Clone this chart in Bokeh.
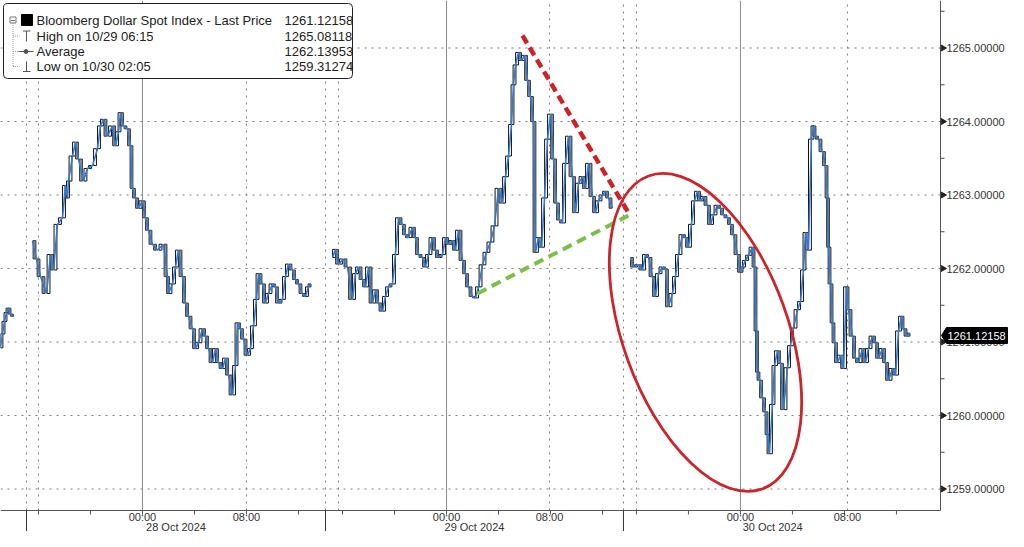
import numpy as np
from bokeh.plotting import figure
from bokeh.models import Range1d
from bokeh.core.properties import value
from bokeh.embed import file_html
from bokeh.resources import INLINE

# ---------------- data (compressed trading timeline, hours) ----------------
t_27 = [0.00, 0.15, 0.31, 0.46, 0.62, 0.77, 1.00]
p_27 = [1260.92, 1261.11, 1261.28, 1261.40, 1261.46, 1261.38, 1261.35]

t_28 = [2.46, 2.77, 3.08, 3.54, 3.85, 4.08, 4.38, 4.77, 5.00, 5.15, 5.23, 5.54, 5.77, 6.00, 6.38,
        6.69, 7.08, 7.46, 7.69, 7.92, 8.23, 8.62, 8.85, 9.08, 9.23, 9.46, 9.77, 10.00, 10.15, 10.38,
        10.62, 10.92, 11.15, 11.38, 11.69, 12.08, 12.54, 12.85, 12.92, 13.23, 13.46, 13.69, 14.00,
        14.23, 14.46, 14.77, 15.00, 15.23, 15.54, 15.77, 16.00, 16.31, 16.54, 16.77, 17.08, 17.31,
        17.54, 17.85, 18.08, 18.23, 18.46, 18.69, 19.00, 19.23, 19.46, 19.69, 19.85, 20.15, 20.38,
        20.62, 20.92, 21.15, 21.38, 21.69, 21.92, 22.15, 22.46, 22.69, 22.92, 23.23, 23.46, 23.69, 23.85]
p_28 = [1262.38, 1262.13, 1261.89, 1261.66, 1262.19, 1261.98, 1262.60, 1262.69, 1263.13, 1262.96,
        1263.19, 1263.53, 1263.72, 1263.49, 1263.19, 1263.36, 1263.40, 1263.63, 1263.94, 1264.03,
        1263.80, 1263.94, 1263.67, 1263.86, 1264.12, 1263.94, 1263.90, 1263.67, 1263.09, 1262.96,
        1262.82, 1262.92, 1262.69, 1262.52, 1262.33, 1262.25, 1262.33, 1261.89, 1261.66, 1261.79,
        1262.02, 1262.25, 1261.89, 1261.53, 1261.35, 1261.18, 1260.91, 1260.99, 1261.18, 1261.08,
        1260.91, 1260.72, 1260.91, 1260.72, 1260.64, 1260.78, 1260.55, 1260.28, 1260.68, 1261.26,
        1261.18, 1261.04, 1260.82, 1260.91, 1261.22, 1261.58, 1261.93, 1261.79, 1261.53, 1261.66,
        1261.79, 1261.75, 1261.53, 1261.58, 1261.89, 1262.06, 1261.98, 1261.85, 1261.79, 1261.66,
        1261.62, 1261.75, 1261.79]

t_29 = [25.54, 25.77, 26.00, 26.38, 26.69, 27.08, 27.31, 27.54, 27.85, 28.08, 28.31, 28.62, 28.85,
        29.08, 29.38, 29.62, 29.85, 30.15, 30.38, 30.62, 30.92, 31.15, 31.38, 31.69, 31.92, 32.15,
        32.46, 32.69, 32.92, 33.23, 33.46, 33.69, 34.00, 34.23, 34.46, 34.77, 35.00, 35.23, 35.54,
        35.77, 36.00, 36.31, 36.54, 36.77, 37.08, 37.38, 37.69, 38.00, 38.31, 38.62, 38.85, 39.08,
        39.31, 39.46, 39.62, 39.85, 40.08, 40.31, 40.54, 40.77, 41.00, 41.15, 41.38, 41.62, 41.85,
        42.08, 42.31, 42.54, 42.77, 43.00, 43.23, 43.46, 43.69, 44.00, 44.23, 44.46, 44.77, 45.00,
        45.23, 45.54, 45.77, 46.00, 46.31, 46.54, 46.77, 47.08]
p_29 = [1262.15, 1262.26, 1262.06, 1262.13, 1262.02, 1261.58, 1261.93, 1262.02, 1261.85, 1261.75,
        1262.02, 1261.53, 1261.71, 1261.53, 1261.42, 1261.62, 1261.75, 1261.79, 1262.19, 1262.69,
        1262.60, 1262.46, 1262.42, 1262.56, 1262.42, 1262.19, 1262.15, 1262.02, 1262.19, 1262.42,
        1262.25, 1262.15, 1262.19, 1262.42, 1262.33, 1262.38, 1262.25, 1262.52, 1262.11, 1261.93,
        1261.75, 1261.62, 1261.60, 1261.75, 1262.05, 1262.22, 1262.36, 1262.58, 1263.09, 1262.89,
        1263.25, 1263.53, 1263.96, 1264.50, 1264.77, 1264.94, 1264.83, 1264.90, 1264.56, 1264.34,
        1264.00, 1262.22, 1262.42, 1262.29, 1262.96, 1263.76, 1264.10, 1263.49, 1262.89, 1262.66,
        1262.62, 1263.43, 1263.80, 1263.25, 1262.76, 1263.16, 1263.25, 1263.09, 1263.43, 1262.98,
        1262.76, 1262.92, 1263.00, 1263.05, 1262.96, 1262.82]

t_30 = [48.46, 48.69, 49.08, 49.38, 49.62, 49.85, 50.15, 50.38, 50.62, 50.92, 51.15, 51.38, 51.69,
        51.92, 52.15, 52.46, 52.69, 52.92, 53.15, 53.38, 53.62, 53.85, 54.08, 54.38, 54.62, 54.85,
        55.15, 55.38, 55.62, 55.92, 56.15, 56.38, 56.69, 56.92, 57.08, 57.31, 57.54, 57.85, 58.00,
        58.15, 58.23, 58.38, 58.62, 58.85, 59.00, 59.15, 59.38, 59.54, 59.77, 60.00, 60.23, 60.54,
        60.77, 61.00, 61.31, 61.54, 61.77, 61.92, 62.15, 62.38, 62.54, 62.69, 62.92, 63.23, 63.46,
        63.62, 63.69, 63.85, 64.00, 64.15, 64.38, 64.62, 64.85, 65.08, 65.23, 65.54, 65.77, 66.00,
        66.31, 66.54, 66.77, 67.08, 67.31, 67.54, 67.85, 68.08, 68.31, 68.62, 68.85, 69.08, 69.31,
        69.46, 69.77, 69.92]
p_30 = [1262.15, 1262.02, 1262.05, 1261.98, 1262.19, 1262.15, 1261.89, 1261.62, 1261.93, 1262.02,
        1261.99, 1261.48, 1261.66, 1261.89, 1262.19, 1262.46, 1262.42, 1262.29, 1262.60, 1262.92,
        1263.05, 1262.92, 1262.98, 1262.86, 1262.60, 1262.73, 1262.86, 1262.82, 1262.73, 1262.69,
        1262.60, 1262.46, 1262.19, 1261.95, 1262.02, 1262.11, 1262.18, 1262.29, 1262.02, 1261.15,
        1260.59, 1260.48, 1260.24, 1260.05, 1259.74, 1259.48, 1260.15, 1260.68, 1260.88, 1260.71,
        1260.08, 1260.65, 1260.95, 1261.19, 1261.44, 1261.55, 1261.98, 1262.49, 1262.25, 1263.76,
        1263.94, 1263.80, 1263.76, 1263.59, 1263.40, 1262.96, 1262.29, 1261.79, 1261.26, 1260.99,
        1260.72, 1260.82, 1260.64, 1261.75, 1261.44, 1261.08, 1260.78, 1260.72, 1260.91, 1260.72,
        1260.91, 1261.08, 1260.99, 1260.78, 1260.91, 1260.72, 1260.48, 1260.64, 1260.55, 1261.15,
        1261.35, 1261.18, 1261.08, 1261.12]

sessions = [(t_27, p_27), (t_28, p_28), (t_29, p_29), (t_30, p_30)]

day_sep = [2.00, 25.00, 47.92]
midnight = [10.92, 34.31, 56.92]
eight = [18.92, 42.23, 65.15]
sixteen = [2.92, 26.00, 48.92]
day_labels = ["28 Oct 2024", "29 Oct 2024", "30 Oct 2024"]
day_label_x = [13.50, 36.46, 59.40]

price_ticks = [1259, 1260, 1261, 1262, 1263, 1264, 1265]
price_labels = ["1259.00000", "1260.00000", "1261.00000", "1262.00000", "1263.00000", "1264.00000", "1265.00000"]
last_price = 1261.12158

legend_labels = ["Bloomberg Dollar Spot Index - Last Price", "High on 10/29 06:15", "Average", "Low on 10/30 02:05"]
legend_values = ["1261.12158", "1265.08118", "1262.13953", "1259.31274"]

# annotations drawn on the original chart
red_line_t = [40.15, 48.30]
red_line_p = [1265.17, 1262.76]
green_line_t = [36.69, 48.30]
green_line_p = [1261.66, 1262.72]
ellipse_t, ellipse_p = 54.23, 1261.13

# ---------------- layout ----------------
W, H = 1008, 531
PX_H = 13.0          # px per hour
PX_U = 73.5          # px per index point
X0, X1 = 0.0, W / PX_H
Y1 = 1265 + 47.5 / PX_U
Y0 = Y1 - H / PX_U

def sx(px):  # px from left -> hours
    return px / PX_H

def sy(py):  # px from top -> price
    return Y1 - py / PX_U

XA = sx(940)          # right axis position
AXIS_Y = sy(510)      # bottom axis position
FONT = value("Liberation Sans")
LBL = "#333333"

p = figure(width=W, height=H, x_range=Range1d(X0, X1), y_range=Range1d(Y0, Y1),
           x_axis_location=None, y_axis_location=None, output_backend="svg",
           toolbar_location=None, min_border=0)
p.outline_line_color = None
p.background_fill_color = "white"
p.border_fill_color = "white"
p.grid.visible = False

# grid lines
n = len(price_ticks)
p.segment(x0=[X0] * n, y0=price_ticks, x1=[XA] * n, y1=price_ticks,
          line_color="#7d7d7d", line_dash="2 5", line_width=1)
dotted_x = day_sep + sixteen + eight
p.segment(x0=dotted_x, y0=[AXIS_Y] * len(dotted_x), x1=dotted_x, y1=[Y1] * len(dotted_x),
          line_color="#7d7d7d", line_dash="2 5", line_width=1)
p.segment(x0=midnight, y0=[AXIS_Y] * 3, x1=midnight, y1=[Y1] * 3, line_color="#8c8c8c", line_width=1)

# candles + line
cx, ctop, cbot, cfill, cline = [], [], [], [], []
for t, c in sessions:
    for i in range(1, len(c)):
        o, cl = c[i - 1], c[i]
        cx.append((t[i - 1] + t[i]) / 2)
        ctop.append(max(o, cl))
        cbot.append(min(o, cl))
        up = cl >= o
        cfill.append("white" if up else "#8e8e8e")
        cline.append("#111111" if up else "#3c3c3c")
p.vbar(x=cx, width=0.22, top=ctop, bottom=cbot, fill_color=cfill, line_color=cline, line_width=1)
for t, c in sessions:
    p.line(t, c, line_color="#3577cc", line_width=1.6)

# drawn annotations
p.line(red_line_t, red_line_p, line_color="#cc2229", line_width=4.5, line_dash="9 5")
p.line(green_line_t, green_line_p, line_color="#7cbf4a", line_width=4, line_dash="10 6")
p.ellipse(x=[ellipse_t], y=[ellipse_p], width=333, height=165, angle=-70, angle_units="deg",
          width_units="screen", height_units="screen", fill_color=None,
          line_color="#c8262c", line_width=2.8)

# bottom axis
p.segment(x0=[X0], y0=[AXIS_Y], x1=[XA], y1=[AXIS_Y], line_color="#555555", line_width=1)
p.segment(x0=day_sep, y0=[AXIS_Y] * 3, x1=day_sep, y1=[Y0] * 3, line_color="#333333", line_width=1)
tick_x = [m + k for m in midnight for k in (-8, -4, 0, 4, 8, 12) if X0 < m + k < XA]
p.segment(x0=tick_x, y0=[AXIS_Y] * len(tick_x), x1=tick_x, y1=[AXIS_Y - 4 / PX_U] * len(tick_x),
          line_color="#555555", line_width=1)
p.text(x=midnight + eight, y=[sy(516)] * 6, text=["00:00"] * 3 + ["08:00"] * 3,
       text_font=FONT, text_font_size="11px", text_color=LBL,
       text_align="center", text_baseline="middle")
p.text(x=day_label_x, y=[sy(526)] * 3, text=day_labels, text_font=FONT, text_font_size="11px",
       text_color=LBL, text_align="center", text_baseline="middle")

# right axis
p.segment(x0=[XA], y0=[AXIS_Y], x1=[XA], y1=[Y1], line_color="#555555", line_width=1)
minor = [v + 0.5 for v in price_ticks]
p.segment(x0=[XA] * n, y0=minor, x1=[sx(944)] * n, y1=minor, line_color="#444444", line_width=1)
p.scatter(x=[sx(942.5)] * n, y=price_ticks, marker="triangle", angle=-np.pi / 2, size=6,
          color="#222222")
p.text(x=[sx(946)] * n, y=price_ticks, text=price_labels, text_font=FONT, text_font_size="11px",
       text_color=LBL, text_baseline="middle")

# last price tag
ty = sy(335)
tag_x = [sx(941), sx(946), sx(1007), sx(1007), sx(946)]
tag_y = [ty, ty + 8 / PX_U, ty + 8 / PX_U, ty - 8 / PX_U, ty - 8 / PX_U]
p.patch(tag_x, tag_y, fill_color="black", line_color="black")
p.text(x=[sx(947)], y=[ty], text=["%.5f" % last_price], text_font=FONT, text_font_size="11px",
       text_color="white", text_baseline="middle")

# legend box
p.quad(left=[sx(3)], right=[sx(352)], top=[sy(3)], bottom=[sy(78)], fill_color="white",
       line_color="#222222", line_width=1, border_radius=4)
rows = [sy(20), sy(35.5), sy(51), sy(66)]
p.text(x=[sx(36)] * 4, y=rows, text=legend_labels, text_font=FONT, text_font_size="13px",
       text_color="#222222", text_baseline="middle")
p.text(x=[sx(284)] * 4, y=rows, text=legend_values, text_font=FONT, text_font_size="13px",
       text_color="#222222", text_baseline="middle")
# legend icons
p.quad(left=[sx(21)], right=[sx(32)], top=[sy(14)], bottom=[sy(25)], fill_color="black",
       line_color="black")
p.quad(left=[sx(9.5)], right=[sx(15.5)], top=[sy(16.5)], bottom=[sy(22.5)], fill_color="white",
       line_color="#777777")
p.segment(x0=[sx(10.5)], y0=[rows[0]], x1=[sx(14.5)], y1=[rows[0]], line_color="#777777")
p.segment(x0=[sx(12.5)] * 4, y0=[sy(22.5), rows[1], rows[2], rows[3]],
          x1=[sx(12.5), sx(19), sx(19), sx(19)], y1=[sy(66), rows[1], rows[2], rows[3]],
          line_color="#999999", line_dash="1 1")
p.segment(x0=[sx(22.5), sx(26), sx(18), sx(26), sx(22.5)],
          y0=[sy(30.5), sy(30.5), rows[2], sy(61), sy(71)],
          x1=[sx(30), sx(26), sx(33), sx(26), sx(30)],
          y1=[sy(30.5), sy(41), rows[2], sy(71), sy(71)],
          line_color="#555555", line_width=1)
p.scatter(x=[sx(25.5)], y=[rows[2]], size=4, color="#555555")

open("out.html", "w").write(file_html(p, INLINE))
